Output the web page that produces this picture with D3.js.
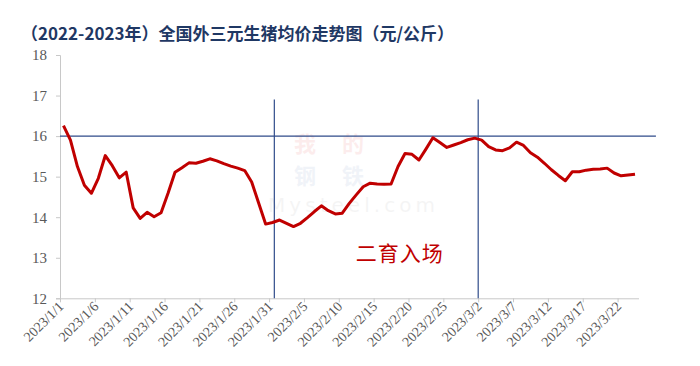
<!DOCTYPE html>
<html>
<head>
<meta charset="utf-8">
<script src="https://cdn.jsdelivr.net/npm/d3@7"></script>
<style>
  html, body { margin: 0; padding: 0; background: #fff; }
  svg { display: block; }
</style>
</head>
<body>
<div id="chart"></div>
<script>
// daily prices 2023/1/1 .. 2023/3/24 (元/公斤)
const startDate = "2023-01-01";
const prices = [
  16.26, 15.90, 15.25, 14.79, 14.59, 14.96, 15.52, 15.27, 14.97, 15.11,
  14.23, 13.97, 14.12, 14.01, 14.11, 14.59, 15.11, 15.22, 15.34, 15.33,
  15.38, 15.44, 15.39, 15.32, 15.26, 15.21, 15.15, 14.87, 14.35, 13.83,
  13.87, 13.93, 13.85, 13.77, 13.85, 13.99, 14.14, 14.28, 14.16, 14.08,
  14.10, 14.34, 14.55, 14.75, 14.84, 14.82, 14.81, 14.82, 15.25, 15.57,
  15.55, 15.41, 15.68, 15.96, 15.84, 15.72, 15.78, 15.84, 15.91, 15.95,
  15.90, 15.74, 15.66, 15.64, 15.71, 15.85, 15.77, 15.59, 15.48, 15.33,
  15.17, 15.03, 14.90, 15.12, 15.12, 15.16, 15.18, 15.19, 15.21, 15.09,
  15.02, 15.04, 15.06
];
const yTicks = [12, 13, 14, 15, 16, 17, 18];
const tickEveryDays = 5;
const markerDates = ["2023-01-31T18:00", "2023-03-02T00:00"]; // blue verticals
const markerTop = 16.9;
const refValue = 16;
const refEnd = "2023-03-27T12:00";
const title = "（2022-2023年）全国外三元生猪均价走势图（元/公斤）";
const note = { text: "二育入场", date: "2023-02-18T18:00", value: 13.1 };

const W = 700, H = 366;
const plot = { left: 60, right: 638.5, top: 55, bottom: 298.3 };
const serif = "'Liberation Serif', 'Times New Roman', serif";

const day = 24 * 3600 * 1000;
const t0 = new Date(startDate + "T00:00");
const data = prices.map((v, i) => ({ date: new Date(t0.getTime() + i * day), v }));
const endDate = new Date(t0.getTime() + prices.length * day);

const svg = d3.select("#chart").append("svg")
  .attr("width", W).attr("height", H);

const x = d3.scaleTime().domain([t0, endDate]).range([plot.left, plot.right]);
const y = d3.scaleLinear().domain([12, 18]).range([plot.bottom, plot.top]);

// title
svg.append("text")
  .attr("x", 21).attr("y", 40)
  .attr("fill", "#1f3864")
  .attr("font-family", "'Noto Sans CJK SC', sans-serif")
  .attr("font-size", 17).attr("font-weight", "bold")
  .text(title);

// faint watermark
const wm = svg.append("g").attr("opacity", 0.07)
  .attr("font-family", "'Noto Sans CJK SC', sans-serif");
[["我的", 152, "#e00000"], ["钢铁", 184, "#3a5fa8"]].forEach(([c, cy, col]) => {
  wm.append("text").attr("x", 294).attr("y", cy).attr("textLength", 70)
    .attr("fill", col).attr("font-size", 22).attr("font-weight", "bold").text(c);
});
wm.append("text").attr("x", 268).attr("y", 212)
  .attr("textLength", 167).attr("fill", "#777")
  .attr("font-family", "'DejaVu Sans', sans-serif")
  .attr("font-size", 20).text("Mysteel.com");

// y axis
const yAxis = d3.axisLeft(y).tickValues(yTicks).tickSize(4).tickPadding(9)
  .tickFormat(d3.format("d"));
const gy = svg.append("g").attr("transform", `translate(${plot.left},0)`).call(yAxis)
  .attr("font-family", serif).attr("font-size", 15);
gy.select(".domain").attr("stroke", "#c8c8c8");
gy.selectAll(".tick line").attr("stroke", "#c8c8c8");
gy.selectAll(".tick text").attr("fill", "#595959");

// x axis
const xTicks = d3.range(0, prices.length, tickEveryDays).map(i => new Date(t0.getTime() + i * day));
const xAxis = d3.axisBottom(x).tickValues(xTicks).tickSize(4).tickSizeOuter(0)
  .tickFormat(d3.timeFormat("%Y/%-m/%-d"));
const gx = svg.append("g").attr("transform", `translate(0,${plot.bottom})`).call(xAxis)
  .attr("font-family", serif).attr("font-size", 14);
gx.select(".domain").attr("stroke", "#c8c8c8");
gx.selectAll(".tick line").attr("stroke", "#c8c8c8");
gx.selectAll(".tick text")
  .attr("fill", "#595959")
  .attr("text-anchor", "end")
  .attr("dy", null)
  .attr("transform", "translate(4,9) rotate(-45)")
  .attr("y", 0).attr("x", 0);

// reference lines
svg.append("line")
  .attr("x1", x(t0)).attr("x2", x(new Date(refEnd)))
  .attr("y1", y(refValue)).attr("y2", y(refValue))
  .attr("stroke", "#2f4b8a").attr("stroke-width", 1.3);

svg.selectAll(".marker").data(markerDates).enter().append("line")
  .attr("class", "marker")
  .attr("x1", d => x(new Date(d))).attr("x2", d => x(new Date(d)))
  .attr("y1", y(markerTop)).attr("y2", y(12))
  .attr("stroke", "#2f4b8a").attr("stroke-width", 1.2);

// price line (points at the middle of each day)
const line = d3.line()
  .x(d => x(new Date(d.date.getTime() + day / 2)))
  .y(d => y(d.v));

svg.append("path").datum(data)
  .attr("fill", "none")
  .attr("stroke", "#c00000")
  .attr("stroke-width", 3)
  .attr("stroke-linejoin", "round")
  .attr("d", line);

// annotation
svg.append("text")
  .attr("x", x(new Date(note.date))).attr("y", y(note.value) + 7)
  .attr("text-anchor", "middle")
  .attr("fill", "#c00000")
  .attr("font-family", "'Noto Sans CJK SC', sans-serif")
  .attr("font-size", 21).attr("letter-spacing", 1)
  .text(note.text);
</script>
</body>
</html>
